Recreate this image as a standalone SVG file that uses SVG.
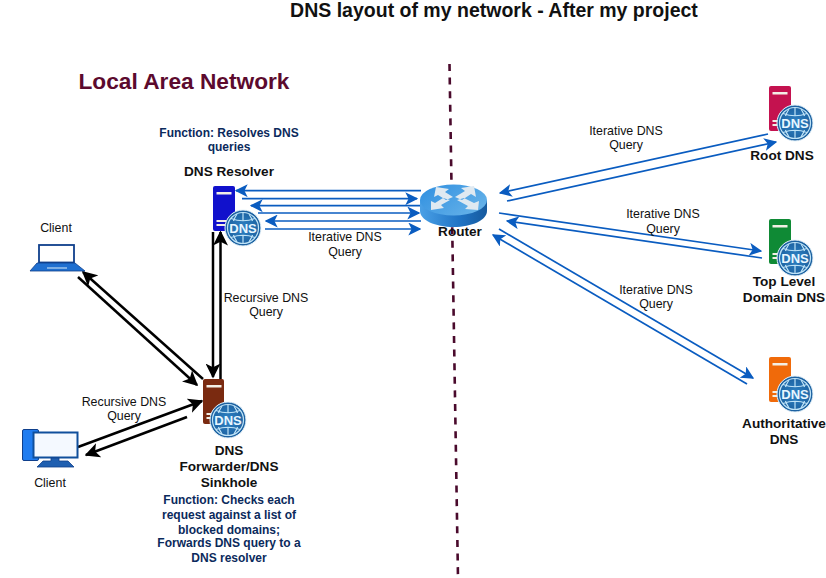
<svg xmlns="http://www.w3.org/2000/svg" width="826" height="578" viewBox="0 0 826 578">
<style>
text{font-family:"Liberation Sans",Arial,sans-serif;fill:#111;text-anchor:middle}
.l{font-size:12.4px}
.b{font-size:13.6px;font-weight:bold}
.f{font-size:12px;font-weight:bold;fill:#0b2a5c}
.bl{fill:none;stroke:#0a5cc0;stroke-width:1.7;marker-end:url(#ab)}
.k{fill:none;stroke:#000;stroke-width:2.5;marker-end:url(#ak)}
.slot{fill:#f3efe6}
.g{fill:none;stroke:#bfe3f7;stroke-width:1.2}
.d{font-size:13px;font-weight:bold;fill:#e8f6ff}
</style>
<defs>
<marker id="ab" viewBox="0 0 10 10" refX="9" refY="5" markerUnits="userSpaceOnUse" markerWidth="13" markerHeight="13" orient="auto"><path d="M0 0L10 5L0 10L2.5 5Z" fill="#0a5cc0"/></marker>
<marker id="ak" viewBox="0 0 10 10" refX="9" refY="5" markerUnits="userSpaceOnUse" markerWidth="15" markerHeight="15" orient="auto"><path d="M0 0L10 5L0 10L2.5 5Z" fill="#000"/></marker>
<radialGradient id="gl" cx="50%" cy="50%" r="50%"><stop offset="0" stop-color="#2f84c6"/><stop offset="1" stop-color="#1b5f9e"/></radialGradient>
<linearGradient id="rt" x1="0" x2="1" y1="0" y2="0.600"><stop offset="0" stop-color="#2f8fe0"/><stop offset="1" stop-color="#63b0e8"/></linearGradient>
<linearGradient id="rs" x1="0" x2="1" y1="0" y2="0"><stop offset="0" stop-color="#4aa0e6"/><stop offset="0.600" stop-color="#1f73c4"/><stop offset="1" stop-color="#165a9e"/></linearGradient>
<g id="globe">
<circle r="18" fill="url(#gl)" stroke="#e8f4fb" stroke-width="1"/>
<circle r="15.500" class="g"/>
<path class="g" d="M-12-9.500Q0-5 12-9.500M-12 9.500Q0 5 12 9.500M-6-14Q-9-9-9.500-7M6-14Q9-9 9.500-7M-6 14Q-9 9-9.500 7M6 14Q9 9 9.500 7M0-15.500V-7M0 15.500V7"/>
<text class="d" y="4.700">DNS</text>
</g>
<g id="bars"><rect x="3.500" y="6" width="15" height="2.500" class="slot"/><rect x="3.500" y="34" width="10" height="2" class="slot"/><rect x="3.500" y="38" width="10" height="2" class="slot"/></g>
</defs>
<rect width="826" height="578" fill="#fff"/>
<path d="M449.500 64L458 578" fill="none" stroke="#4a0a2c" stroke-width="2.600" stroke-dasharray="7 6.600"/>
<text x="494" y="17" style="font-size:19.500px;font-weight:bold">DNS layout of my network - After my project</text>
<text x="184" y="89" style="font-size:22.700px;font-weight:bold;fill:#5c0a2e">Local Area Network</text>
<g id="connectors">
<path class="bl" d="M421 190.700H236"/><path class="bl" d="M242 198.700H417"/>
<path class="bl" d="M421 205.700H251"/><path class="bl" d="M258 213H419"/>
<path class="bl" d="M421 221H266"/><path class="bl" d="M265 229H420"/>
<path class="bl" d="M768 134L500 193"/><path class="bl" d="M507 201L776 142"/>
<path class="bl" d="M499 213L761 251"/><path class="bl" d="M762 258L507 221"/>
<path class="bl" d="M499 229L753 378"/><path class="bl" d="M747 384L493 235"/>
<path class="k" d="M213 232V377"/><path class="k" d="M220.500 379V232"/>
<path class="k" d="M203 379L83 272"/><path class="k" d="M78 277L197 385"/>
<path class="k" d="M78 447L202 401"/><path class="k" d="M187 417L86 455"/>
</g>
<g id="resolver"><rect x="213" y="186" width="22" height="45" rx="2" fill="#1111cc"/><use href="#bars" x="213" y="186"/><use href="#globe" x="243" y="228"/>
<text class="b" x="229" y="176">DNS Resolver</text>
<text class="f" x="229" y="137">Function: Resolves DNS</text><text class="f" x="229" y="151">queries</text></g>
<g id="forwarder"><rect x="203" y="379" width="21" height="45" rx="2" fill="#7a2a10"/><use href="#bars" x="203" y="379"/><use href="#globe" x="228" y="420"/>
<text class="b" x="229" y="455">DNS</text><text class="b" x="229" y="471">Forwarder/DNS</text><text class="b" x="229" y="487">Sinkhole</text>
<text class="f" x="229" y="504">Function: Checks each</text><text class="f" x="229" y="519">request against a list of</text><text class="f" x="229" y="534">blocked domains;</text><text class="f" x="229" y="547">Forwards DNS query to a</text><text class="f" x="229" y="562">DNS resolver</text></g>
<g id="router">
<path d="M420 200V211C420 220 435 227 453.500 227S487 220 487 211V200Z" fill="url(#rs)"/>
<ellipse cx="453.500" cy="200" rx="33.500" ry="15.500" fill="url(#rt)"/>
<path d="M436 187L449 189L445 192L453 197L446 200L438 195L434 197ZM474 186L461 188L465 191L455 197L462 200L471 194L476 197ZM431 210L444 208L441 205L450 200L443 198L435 203L431 201ZM478 210L465 209L468 206L457 200L464 198L474 203L479 201Z" fill="#dfe9f1"/>
<text class="b" x="460" y="236">Router</text></g>
<g id="laptop">
<rect x="39" y="245" width="35" height="17.500" fill="#fff" stroke="#0f3f8c" stroke-width="1.800"/>
<path d="M37 263H75L85 271H30Z" fill="#1f6fd0" stroke="#0f3f8c" stroke-width="0.800"/>
<path d="M47 268H67" stroke="#bcd9f2" stroke-width="1.200"/></g>
<text class="l" x="56" y="232">Client</text>
<g id="desktop">
<rect x="22.500" y="429.500" width="16" height="31" rx="1.500" fill="#1f7cf0" stroke="#0f3f8c"/>
<rect x="33.500" y="432.500" width="44" height="25" fill="#f4f9ff" stroke="#0f4f9c" stroke-width="2"/>
<path d="M51 458H59V461H68L74 467H37L43 461H51Z" fill="#1f5fb0" stroke="#0f3f8c" stroke-width="0.800"/>
<text class="l" x="50" y="487">Client</text></g>
<g id="root"><rect x="769" y="86" width="22" height="45" rx="2" fill="#c4124f"/><use href="#bars" x="769" y="86"/><use href="#globe" x="795" y="123"/><text class="b" x="782" y="160">Root DNS</text></g>
<g id="tld"><rect x="769" y="219" width="22" height="45" rx="2" fill="#0f8a35"/><use href="#bars" x="769" y="219"/><use href="#globe" x="795" y="258"/><text class="b" x="784" y="286">Top Level</text><text class="b" x="784" y="302">Domain DNS</text></g>
<g id="auth"><rect x="769" y="357" width="22" height="45" rx="2" fill="#f06a0a"/><use href="#bars" x="769" y="357"/><use href="#globe" x="795" y="394"/><text class="b" x="784" y="428">Authoritative</text><text class="b" x="784" y="444">DNS</text></g>
<g id="labels">
<text class="l" x="345" y="241">Iterative DNS</text><text class="l" x="345" y="256">Query</text>
<text class="l" x="266" y="302">Recursive DNS</text><text class="l" x="266" y="316">Query</text>
<text class="l" x="124" y="406">Recursive DNS</text><text class="l" x="124" y="420">Query</text>
<text class="l" x="626" y="135">Iterative DNS</text><text class="l" x="626" y="149">Query</text>
<text class="l" x="663" y="218">Iterative DNS</text><text class="l" x="663" y="233">Query</text>
<text class="l" x="656" y="294">Iterative DNS</text><text class="l" x="656" y="308">Query</text>
</g>
</svg>
